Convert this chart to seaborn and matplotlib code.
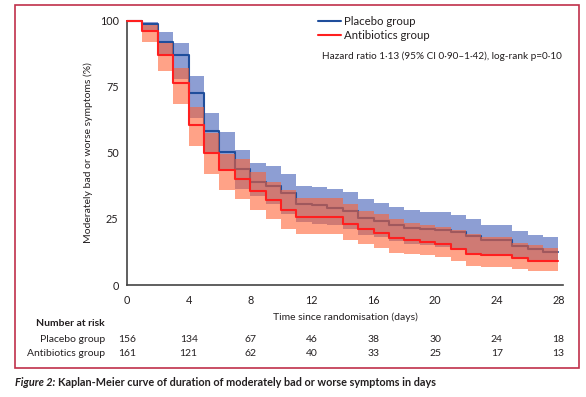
import numpy as np
import pandas as pd
import matplotlib
matplotlib.use("Agg")
import matplotlib.pyplot as plt
import seaborn as sns
from matplotlib.lines import Line2D
from matplotlib.patches import Rectangle

# ---------------- data ----------------
days = list(range(29))

placebo = [100, 98.8, 91.9, 87.0, 72.7, 58.3, 50.3, 43.7, 38.9, 37.3, 34.8,
           30.8, 30.1, 29.2, 28.0, 25.5, 24.2, 22.8, 21.5, 21.0, 20.8, 20.0,
           18.7, 16.9, 16.9, 14.6, 13.7, 12.4, 12.4]
placebo_hi = [100, 99.4, 95.8, 91.4, 79.0, 65.0, 57.9, 51.2, 46.3, 44.9, 42.1,
              37.5, 37.0, 36.2, 35.0, 32.4, 31.1, 29.5, 28.2, 27.6, 27.6, 26.6,
              25.1, 22.8, 22.8, 20.6, 19.0, 18.1, 18.1]
placebo_lo = [100, 95.5, 87.0, 78.0, 63.0, 50.0, 43.4, 36.4, 33.5, 30.8, 27.0,
              24.0, 23.0, 22.5, 21.0, 19.0, 18.1, 16.5, 15.6, 15.0, 14.3, 13.7,
              12.2, 10.8, 10.8, 9.9, 9.3, 8.6, 8.6]

antibiotics = [100, 96.2, 87.0, 76.3, 60.5, 49.9, 43.4, 40.2, 35.4, 32.0, 28.5,
               25.8, 25.7, 25.7, 23.0, 21.3, 19.8, 17.6, 17.0, 16.3, 15.6, 13.7,
               11.8, 11.2, 11.2, 10.1, 9.2, 9.2, 9.2]
antibiotics_hi = [100, 98.3, 91.4, 81.9, 67.4, 57.3, 49.7, 47.8, 42.7, 38.9, 35.8,
                  33.0, 32.9, 32.9, 30.8, 28.0, 27.0, 25.1, 23.4, 22.5, 21.9, 20.9,
                  19.4, 18.1, 18.1, 15.8, 15.0, 14.1, 14.1]
antibiotics_lo = [100, 92.0, 80.9, 68.6, 52.5, 42.1, 35.8, 32.7, 28.2, 25.1, 21.3,
                  19.4, 19.4, 19.1, 17.0, 15.5, 14.0, 12.2, 11.8, 11.2, 10.5, 9.0,
                  7.1, 6.7, 6.7, 6.1, 5.2, 5.2, 5.2]

groups = ["Placebo group", "Antibiotics group"]
risk_days = [0, 4, 8, 12, 16, 20, 24, 28]
risk_placebo = [156, 134, 67, 46, 38, 30, 24, 18]
risk_antibiotics = [161, 121, 62, 40, 33, 25, 17, 13]
y_ticks = [0, 25, 50, 75, 100]
annotation = "Hazard ratio 1\u00b713 (95% CI 0\u00b790\u20131\u00b742), log-rank p=0\u00b710"
caption_lead = "Figure 2:"
caption_rest = "Kaplan-Meier curve of duration of moderately bad or worse symptoms in days"

# ---------------- styling ----------------
sns.set_theme(style="white")
plt.rcParams["font.family"] = ["Lato", "DejaVu Sans"]
FS = 7.2
TXT = "#231f20"
BLUE_LINE = "#1f4e9c"
RED_LINE = "#ff1f1f"
BLUE_FILL = "#2f4fb0"
RED_FILL = "#ff6030"

fig = plt.figure(figsize=(5.86, 3.97), dpi=100)
ax = fig.add_axes([127 / 586, 112 / 397, 436 / 586, 264.5 / 397])

df = pd.DataFrame({
    "day": days * 2,
    "value": placebo + antibiotics,
    "group": [groups[0]] * len(days) + [groups[1]] * len(days),
})

# placebo band + line, then antibiotics band + line
ax.fill_between(days, placebo_lo, placebo_hi, step="post", color=BLUE_FILL,
                alpha=0.55, lw=0, zorder=1)
sns.lineplot(data=df[df.group == groups[0]], x="day", y="value",
             color=BLUE_LINE, lw=1.5, drawstyle="steps-post", estimator=None,
             legend=False, ax=ax, zorder=2)
ax.fill_between(days, antibiotics_lo, antibiotics_hi, step="post", color=RED_FILL,
                alpha=0.58, lw=0, zorder=3)
sns.lineplot(data=df[df.group == groups[1]], x="day", y="value",
             color=RED_LINE, lw=1.5, drawstyle="steps-post", estimator=None,
             legend=False, ax=ax, zorder=4)
for ln in ax.lines:
    ln.set_clip_on(False)

ax.set_xlim(0, 28.3)
ax.set_ylim(0, 100)
ax.set_xticks(risk_days)
ax.set_yticks(y_ticks)
ax.tick_params(axis="both", length=4, width=1, color="#444444", labelsize=FS + 0.6,
               labelcolor=TXT, pad=2, direction="out")
ax.tick_params(axis="x", pad=3)
for s in ["top", "right"]:
    ax.spines[s].set_visible(False)
for s in ["left", "bottom"]:
    ax.spines[s].set_color("#444444")
    ax.spines[s].set_linewidth(1.2)
ax.set_xlabel("Time since randomisation (days)", fontsize=FS + 0.3, color=TXT, labelpad=5)
ax.set_ylabel("Moderately bad or worse symptoms (%)", fontsize=FS + 0.3, color=TXT,
              labelpad=5)
ax.grid(False)

# legend
handles = [Line2D([], [], color=BLUE_LINE, lw=1.5), Line2D([], [], color=RED_LINE, lw=1.5)]
leg = ax.legend(handles, groups, loc="upper left",
                bbox_to_anchor=(191 / 436, 1.018),
                frameon=False, fontsize=FS + 1.0, handlelength=2.0, handletextpad=0.3,
                labelspacing=0.3, borderaxespad=0, borderpad=0)
for t in leg.get_texts():
    t.set_color(TXT)
fig.text(322 / 586, 1 - 56 / 397, annotation, fontsize=FS, color=TXT,
         ha="left", va="center")

# number at risk table
fig.text(105 / 586, 1 - 324 / 397, "Number at risk", fontsize=FS + 0.3, color=TXT,
         weight="bold", ha="right", va="center")
for row_y, name, vals in [(339, groups[0], risk_placebo), (353, groups[1], risk_antibiotics)]:
    fig.text(105 / 586, 1 - row_y / 397, name, fontsize=FS + 0.3, color=TXT,
             ha="right", va="center")
    for d, v in zip(risk_days, vals):
        ax.text(d, -(row_y - 285) / 264.5, str(v), transform=ax.get_xaxis_transform(),
                fontsize=FS + 0.3, color=TXT, ha="center", va="center", clip_on=False)

# frame and caption
fig.add_artist(Rectangle((15 / 586, 1 - 368 / 397), 564 / 586, 363 / 397,
                         transform=fig.transFigure, fill=False,
                         edgecolor="#c0304a", lw=1.2))
lead = fig.text(15 / 586, 1 - 382 / 397, caption_lead, fontsize=FS + 0.6, color=TXT,
                weight="bold", style="italic", ha="left", va="center")
fig.canvas.draw()
bb = lead.get_window_extent(renderer=fig.canvas.get_renderer())
fig.text((bb.x1 + 3) / 586, 1 - 382 / 397, caption_rest, fontsize=FS + 0.6, color=TXT,
         weight="bold", ha="left", va="center")

fig.savefig("out.png", dpi=100)
